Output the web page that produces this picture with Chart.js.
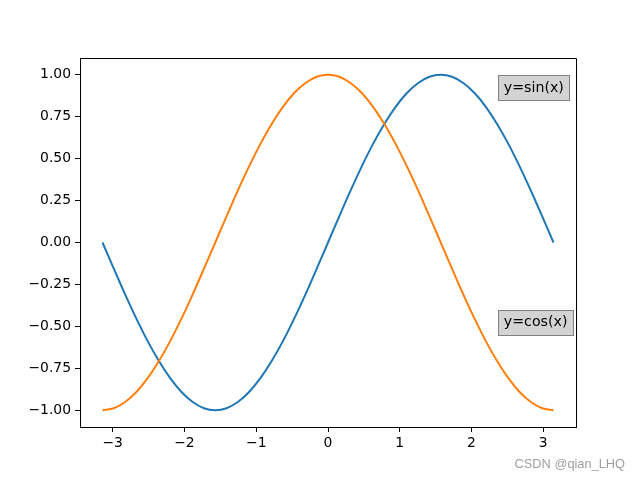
<!DOCTYPE html>
<html>
<head>
<meta charset="utf-8">
<script src="https://cdn.jsdelivr.net/npm/chart.js@4.4.0/dist/chart.umd.min.js"></script>
<style>
  body { margin: 0; background: #fff; }
  #wrap { width: 640px; height: 480px; position: relative; }
</style>
</head>
<body>
<div id="wrap"><canvas id="myChart" width="640" height="480"></canvas></div>
<script>
// data
const xs = [-3.142, -2.985, -2.827, -2.670, -2.513, -2.356, -2.199, -2.042, -1.885, -1.728,
  -1.571, -1.414, -1.257, -1.100, -0.942, -0.785, -0.628, -0.471, -0.314, -0.157,
  0, 0.157, 0.314, 0.471, 0.628, 0.785, 0.942, 1.100, 1.257, 1.414,
  1.571, 1.728, 1.885, 2.042, 2.199, 2.356, 2.513, 2.670, 2.827, 2.985, 3.142];
const sinVals = [0, -0.156, -0.309, -0.454, -0.588, -0.707, -0.809, -0.891, -0.951, -0.988,
  -1, -0.988, -0.951, -0.891, -0.809, -0.707, -0.588, -0.454, -0.309, -0.156,
  0, 0.156, 0.309, 0.454, 0.588, 0.707, 0.809, 0.891, 0.951, 0.988,
  1, 0.988, 0.951, 0.891, 0.809, 0.707, 0.588, 0.454, 0.309, 0.156, 0];
const cosVals = [-1, -0.988, -0.951, -0.891, -0.809, -0.707, -0.588, -0.454, -0.309, -0.156,
  0, 0.156, 0.309, 0.454, 0.588, 0.707, 0.809, 0.891, 0.951, 0.988,
  1, 0.988, 0.951, 0.891, 0.809, 0.707, 0.588, 0.454, 0.309, 0.156,
  0, -0.156, -0.309, -0.454, -0.588, -0.707, -0.809, -0.891, -0.951, -0.988, -1];
const xTicks = [-3, -2, -1, 0, 1, 2, 3];
const yTicks = [-1, -0.75, -0.5, -0.25, 0, 0.25, 0.5, 0.75, 1];
const labels = [
  { text: 'y=sin(x)', x: 2.45, y: 0.9 },
  { text: 'y=cos(x)', x: 2.45, y: -0.5 }
];

const FONT = '"DejaVu Sans", sans-serif';
const minus = v => String(v).replace('-', '\u2212');

const frameAndText = {
  id: 'frameAndText',
  afterDraw(chart) {
    const c = chart.ctx, a = chart.chartArea;
    const sx = chart.scales.x, sy = chart.scales.y;
    c.save();
    c.strokeStyle = '#000';
    c.lineWidth = 1;
    c.beginPath();
    c.moveTo(a.left, a.top + 0.5);
    c.lineTo(a.right + 0.5, a.top + 0.5);
    c.lineTo(a.right + 0.5, a.bottom);
    c.stroke();

    c.font = '14.2px ' + FONT;
    c.textBaseline = 'alphabetic';
    c.textAlign = 'left';
    labels.forEach(l => {
      const px = sx.getPixelForValue(l.x);
      const py = sy.getPixelForValue(l.y);
      const w = c.measureText(l.text).width;
      const bx = Math.round(px - 6), by = Math.round(py - 16.5);
      const bw = Math.round(w + 11);
      c.fillStyle = '#d3d3d3';
      c.fillRect(bx, by, bw, 25);
      c.strokeStyle = '#808080';
      c.strokeRect(bx + 0.5, by + 0.5, bw, 25);
      c.fillStyle = '#000';
      c.fillText(l.text, px, py);
    });

    // watermark
    c.font = '12.8px "Liberation Sans", Arial, sans-serif';
    c.fillStyle = '#a0a0a0';
    c.textAlign = 'right';
    c.fillText('CSDN @qian_LHQ', 625, 468);
    c.restore();
  }
};

const ctx = document.getElementById('myChart');
new Chart(ctx, {
  type: 'line',
  data: {
    datasets: [
      {
        label: 'sin',
        data: xs.map((x, i) => ({ x: x, y: sinVals[i] })),
        borderColor: '#1f77b4',
        borderWidth: 2,
        pointRadius: 0,
        tension: 0.3,
        order: 2
      },
      {
        label: 'cos',
        data: xs.map((x, i) => ({ x: x, y: cosVals[i] })),
        borderColor: '#ff7f0e',
        borderWidth: 2,
        pointRadius: 0,
        tension: 0.3,
        order: 1
      }
    ]
  },
  options: {
    responsive: false,
    animation: false,
    devicePixelRatio: 1,
    layout: { padding: { left: 0, right: 64, top: 58, bottom: 0 } },
    plugins: { legend: { display: false }, tooltip: { enabled: false } },
    scales: {
      x: {
        type: 'linear',
        min: -3.4558,
        max: 3.4558,
        afterBuildTicks: s => { s.ticks = xTicks.map(v => ({ value: v })); },
        afterFit: s => { s.height = 53; },
        grid: { drawOnChartArea: false, tickLength: 5, tickColor: '#000', tickWidth: 1 },
        border: { color: '#000', width: 1 },
        ticks: { color: '#000', font: { family: FONT, size: 13.9 }, padding: 3, maxRotation: 0,
          callback: v => minus(v) }
      },
      y: {
        type: 'linear',
        min: -1.1,
        max: 1.1,
        afterBuildTicks: s => { s.ticks = yTicks.map(v => ({ value: v })); },
        afterFit: s => { s.width = 80; },
        grid: { drawOnChartArea: false, tickLength: 5, tickColor: '#000', tickWidth: 1 },
        border: { color: '#000', width: 1 },
        ticks: { color: '#000', font: { family: FONT, size: 13.9 }, padding: 4,
          callback: v => minus(v.toFixed(2)) }
      }
    }
  },
  plugins: [frameAndText]
});
</script>
</body>
</html>
